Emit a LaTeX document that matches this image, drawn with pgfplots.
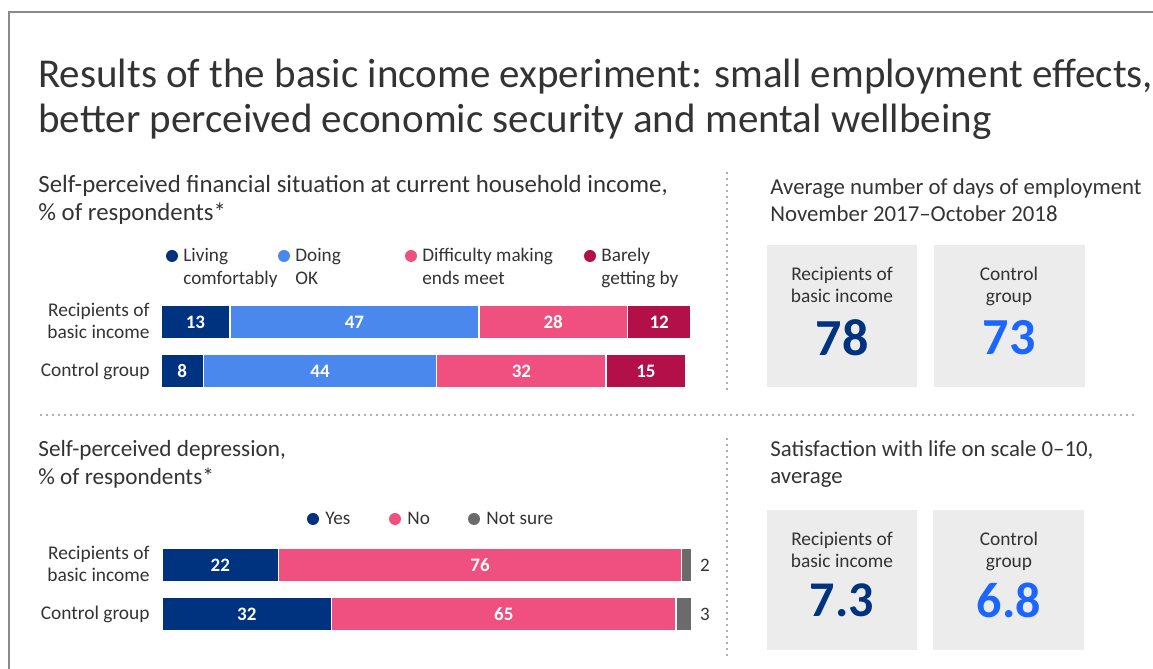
\documentclass[border=0pt]{standalone}
\usepackage{pgfplots}
\usepackage{pgfplotstable}
\pgfplotsset{compat=1.18}
\usepackage{fontspec}
\setmainfont{Carlito}
\definecolor{navy}{HTML}{00337F}
\definecolor{okblue}{HTML}{4A88EE}
\definecolor{pinkc}{HTML}{F0507F}
\definecolor{crim}{HTML}{B3104A}
\definecolor{notsure}{HTML}{6B6B6B}
\definecolor{bright}{HTML}{1A66FF}
\definecolor{panel}{HTML}{ECECEC}
\definecolor{txt}{HTML}{333333}
\definecolor{framec}{HTML}{8A8A8A}
\definecolor{dotc}{HTML}{B0B0B0}
\newcommand{\fs}[2]{\fontsize{#1pt}{#2pt}\selectfont}
% financial situation: a=Living comfortably, b=Doing OK, c=Difficulty making ends meet, d=Barely getting by
\pgfplotstableread{
y a b c d
0 8 44 32 15
1 13 47 28 12
}\fintab
% depression: a=Yes, b=No, c=Not sure
\pgfplotstableread{
y a b c
0 32 65 3
1 22 76 2
}\deptab
\pgfplotsset{
  geom/.style={xmin=0, xmax=100, ymin=-0.5, ymax=1.5,
    scale only axis, width=265pt, height=49pt, hide axis, clip=false,
    anchor=south west},
  segbar/.style={geom, xbar stacked, bar width=17pt},
  seg/.style={fill=#1, draw=white, line width=0.75pt},
  labin/.style={geom, every node near coord/.append style={font=\fs{9.5}{11}\bfseries,
      text=white, anchor=center}},
  labout/.style={geom, every node near coord/.append style={font=\fs{9.5}{11},
      text=txt, anchor=west, xshift=0.5pt}},
  lbl/.style={draw=none, mark=none, nodes near coords, point meta=explicit symbolic},
}
\begin{document}
\begin{tikzpicture}[x=0.5pt,y=0.5pt]
\useasboundingbox (0,0) rectangle (1153,669);
% frame
\draw[framec, line width=1pt] (9,0) -- (9,657) -- (1153,657);
% title
\node[anchor=base west, inner sep=0pt, text=txt, font=\fs{20.5}{24}] at (38,581) {Results of the basic income experiment: small employment effects,};
\node[anchor=base west, inner sep=0pt, text=txt, font=\fs{20.5}{24}] at (38,536) {better perceived economic security and mental wellbeing};
% separators
\draw[dotc, line width=1pt, dash pattern=on 1pt off 2pt] (40,254) -- (1137,254);
\draw[dotc, line width=1pt, dash pattern=on 1pt off 2pt] (727,497) -- (727,279);
\draw[dotc, line width=1pt, dash pattern=on 1pt off 2pt] (727,231) -- (727,12);
% left top header
\node[anchor=base west, inner sep=0pt, text=txt, font=\fs{12.4}{14}] at (38,476) {Self-perceived financial situation at current household income,};
\node[anchor=base west, inner sep=0pt, text=txt, font=\fs{12.4}{14}] at (38,448) {\% of respondents*};
% legend top
\foreach \xd/\col/\la/\lb in {172/navy/Living/comfortably, 284/okblue/Doing/OK, 411/pinkc/Difficulty making/ends meet, 590/crim/Barely/getting by}{
  \fill[\col] (\xd,413) circle (3pt);
  \node[anchor=base west, inner sep=0pt, text=txt, font=\fs{9.6}{11}] at (\xd+11,407) {\la};
  \node[anchor=base west, inner sep=0pt, text=txt, font=\fs{9.6}{11}] at (\xd+11,384) {\lb};
}
% category labels top
\node[anchor=base east, inner sep=0pt, text=txt, font=\fs{9.7}{11}] at (150,352) {Recipients of};
\node[anchor=base east, inner sep=0pt, text=txt, font=\fs{9.7}{11}] at (150,330) {basic income};
\node[anchor=base east, inner sep=0pt, text=txt, font=\fs{9.7}{11}] at (150,292) {Control group};
\coordinate (A1) at (161,273.5);
\begin{axis}[segbar, at={(A1)}]
\addplot[seg=navy] table[x=a, y=y] {\fintab};
\addplot[seg=okblue] table[x=b, y=y] {\fintab};
\addplot[seg=pinkc] table[x=c, y=y] {\fintab};
\addplot[seg=crim] table[x=d, y=y] {\fintab};
\end{axis}
\begin{axis}[labin, at={(A1)}]
\addplot[lbl] table[x expr=\thisrow{a}/2, y=y, meta=a] {\fintab};
\addplot[lbl] table[x expr=\thisrow{a}+\thisrow{b}/2, y=y, meta=b] {\fintab};
\addplot[lbl] table[x expr=\thisrow{a}+\thisrow{b}+\thisrow{c}/2, y=y, meta=c] {\fintab};
\addplot[lbl] table[x expr=\thisrow{a}+\thisrow{b}+\thisrow{c}+\thisrow{d}/2, y=y, meta=d] {\fintab};
\end{axis}
% left bottom header
\node[anchor=base west, inner sep=0pt, text=txt, font=\fs{11.6}{14}] at (38,212) {Self-perceived depression,};
\node[anchor=base west, inner sep=0pt, text=txt, font=\fs{11.6}{14}] at (38,184) {\% of respondents*};
\foreach \xd/\col/\la in {313/navy/Yes, 395/pinkc/No, 474/notsure/Not sure}{
  \fill[\col] (\xd,150) circle (3pt);
  \node[anchor=base west, inner sep=0pt, text=txt, font=\fs{9.6}{11}] at (\xd+12,144) {\la};
}
\node[anchor=base east, inner sep=0pt, text=txt, font=\fs{9.7}{11}] at (150,109) {Recipients of};
\node[anchor=base east, inner sep=0pt, text=txt, font=\fs{9.7}{11}] at (150,87) {basic income};
\node[anchor=base east, inner sep=0pt, text=txt, font=\fs{9.7}{11}] at (150,49) {Control group};
\coordinate (A2) at (162,30.5);
\begin{axis}[segbar, at={(A2)}]
\addplot[seg=navy] table[x=a, y=y] {\deptab};
\addplot[seg=pinkc] table[x=b, y=y] {\deptab};
\addplot[seg=notsure] table[x=c, y=y] {\deptab};
\end{axis}
\begin{axis}[labin, at={(A2)}]
\addplot[lbl] table[x expr=\thisrow{a}/2, y=y, meta=a] {\deptab};
\addplot[lbl] table[x expr=\thisrow{a}+\thisrow{b}/2, y=y, meta=b] {\deptab};
\end{axis}
\begin{axis}[labout, at={(A2)}]
\addplot[lbl] table[x expr=\thisrow{a}+\thisrow{b}+\thisrow{c}, y=y, meta=c] {\deptab};
\end{axis}
% right top
\node[anchor=base west, inner sep=0pt, text=txt, font=\fs{11.4}{13}] at (770,474) {Average number of days of employment};
\node[anchor=base west, inner sep=0pt, text=txt, font=\fs{11.4}{13}] at (770,447) {November 2017--October 2018};
\fill[panel] (767,282) rectangle (917,424);
\fill[panel] (934,282) rectangle (1085,424);
\node[anchor=base, inner sep=0pt, text=txt, font=\fs{9.7}{11}] at (842,388) {Recipients of};
\node[anchor=base, inner sep=0pt, text=txt, font=\fs{9.7}{11}] at (842,366) {basic income};
\node[anchor=base, inner sep=0pt, text=txt, font=\fs{9.7}{11}] at (1009,388) {Control};
\node[anchor=base, inner sep=0pt, text=txt, font=\fs{9.7}{11}] at (1009,366) {group};
\node[inner sep=0pt, text=navy, font=\fs{26}{30}\bfseries] at (842,331) {78};
\node[inner sep=0pt, text=bright, font=\fs{26}{30}\bfseries] at (1009,331) {73};
% right bottom
\node[anchor=base west, inner sep=0pt, text=txt, font=\fs{11.4}{13}] at (770,212) {Satisfaction with life on scale 0--10,};
\node[anchor=base west, inner sep=0pt, text=txt, font=\fs{11.4}{13}] at (770,185) {average};
\fill[panel] (767,19) rectangle (917,159);
\fill[panel] (933,19) rectangle (1084,159);
\node[anchor=base, inner sep=0pt, text=txt, font=\fs{9.7}{11}] at (842,123) {Recipients of};
\node[anchor=base, inner sep=0pt, text=txt, font=\fs{9.7}{11}] at (842,101) {basic income};
\node[anchor=base, inner sep=0pt, text=txt, font=\fs{9.7}{11}] at (1009,123) {Control};
\node[anchor=base, inner sep=0pt, text=txt, font=\fs{9.7}{11}] at (1009,101) {group};
\node[inner sep=0pt, text=navy, font=\fs{25}{30}\bfseries] at (842,69) {7.3};
\node[inner sep=0pt, text=bright, font=\fs{25}{30}\bfseries] at (1009,69) {6.8};
\end{tikzpicture}
\end{document}
